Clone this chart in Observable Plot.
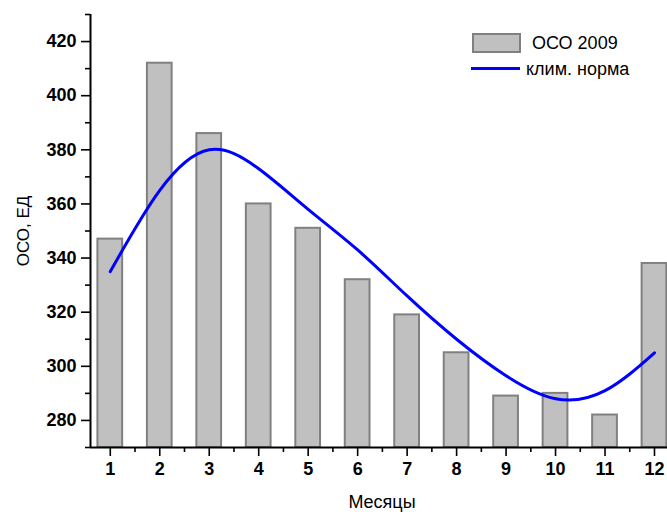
<!DOCTYPE html>
<html>
<head>
<meta charset="utf-8">
<script src="https://cdn.jsdelivr.net/npm/d3@7"></script>
<script src="https://cdn.jsdelivr.net/npm/@observablehq/plot@0.6"></script>
<style>
  html, body { margin: 0; padding: 0; background: #fff; }
  #wrap { position: relative; width: 667px; height: 512px; font-family: "Liberation Sans", Arial, sans-serif; }
  #legend { position: absolute; left: 0; top: 0; width: 667px; height: 512px; pointer-events: none; }
  .sw-box { position: absolute; left: 472px; top: 33px; width: 45px; height: 16px; background: #c0c0c0; border: 2px solid #808080; }
  .sw-line { position: absolute; left: 471px; top: 67px; width: 49px; height: 3px; background: #0000ff; }
  .lg-t { position: absolute; font-size: 18px; color: #000; line-height: 1; white-space: nowrap; }
</style>
</head>
<body>
<div id="wrap">
  <div id="chart"></div>
  <div id="legend">
    <div class="sw-box"></div>
    <div class="lg-t" style="left:532px; top:34px;">ОСО 2009</div>
    <div class="sw-line"></div>
    <div class="lg-t" style="left:526px; top:60px;">клим. норма</div>
  </div>
</div>
<script>
// ---- data ----
const months = [1, 2, 3, 4, 5, 6, 7, 8, 9, 10, 11, 12];
const oco2009 = [347, 412, 386, 360, 351, 332, 319, 305, 289, 290, 282, 338];
const climNorm = [335, 365, 380, 373, 358, 343, 326, 310, 296.5, 288, 291, 305];
const yTicks = [280, 300, 320, 340, 360, 380, 400, 420];
const yMinorTicks = [270, 290, 310, 330, 350, 370, 390, 410, 430];
const xTicks = months;
const xMinorTicks = [1.5, 2.5, 3.5, 4.5, 5.5, 6.5, 7.5, 8.5, 9.5, 10.5, 11.5];
const xDomain = [0.6, 12.263];
const yDomain = [270, 430];
const xLabel = "Месяцы";
const yLabel = "ОСО, ЕД";

const bars = months.map((m, i) => ({m, v: oco2009[i]}));
const norm = months.map((m, i) => ({m, v: climNorm[i]}));
const halfW = 0.25;

const font = "Liberation Sans, Arial, sans-serif";

const chart = Plot.plot({
  width: 667,
  height: 512,
  marginLeft: 90,
  marginRight: 0,
  marginTop: 14,
  marginBottom: 65,
  style: {fontFamily: font, background: "#fff", overflow: "visible"},
  x: {domain: xDomain, label: null},
  y: {domain: yDomain, label: null},
  marks: [
    Plot.rectY(bars, {x1: d => d.m - halfW, x2: d => d.m + halfW, y1: yDomain[0], y2: "v",
      fill: "#c0c0c0", stroke: "#808080", strokeWidth: 2}),
    Plot.line(norm, {x: "m", y: "v", curve: "natural", stroke: "#0000ff", strokeWidth: 3}),
    // axes
    Plot.axisY({ticks: yMinorTicks, tickSize: 5, text: null, strokeWidth: 1.6, stroke: "#000", label: null}),
    Plot.axisY({ticks: yTicks, tickSize: 9, tickPadding: 5, tickFormat: d => String(d),
      fontSize: 18, fontWeight: "bold", strokeWidth: 1.6, stroke: "#000", fill: "#000", label: null}),
    Plot.axisX({ticks: xMinorTicks, tickSize: 5, text: null, strokeWidth: 1.6, stroke: "#000", label: null}),
    Plot.axisX({ticks: xTicks, tickSize: 9, tickPadding: 6, tickFormat: d => String(d),
      fontSize: 18, fontWeight: "bold", strokeWidth: 1.6, stroke: "#000", fill: "#000", label: null}),
    Plot.ruleX([xDomain[0]], {stroke: "#000", strokeWidth: 2}),
    Plot.ruleY([yDomain[0]], {stroke: "#000", strokeWidth: 2}),
    Plot.text([yLabel], {frameAnchor: "left", rotate: -90, dx: -67, fontSize: 17, fill: "#000",
      textAnchor: "middle", lineAnchor: "middle"}),
    Plot.text([xLabel], {frameAnchor: "bottom", dx: 3, dy: 55, fontSize: 18, fill: "#000",
      textAnchor: "middle", lineAnchor: "middle"})
  ]
});
document.getElementById("chart").appendChild(chart);
</script>
</body>
</html>
